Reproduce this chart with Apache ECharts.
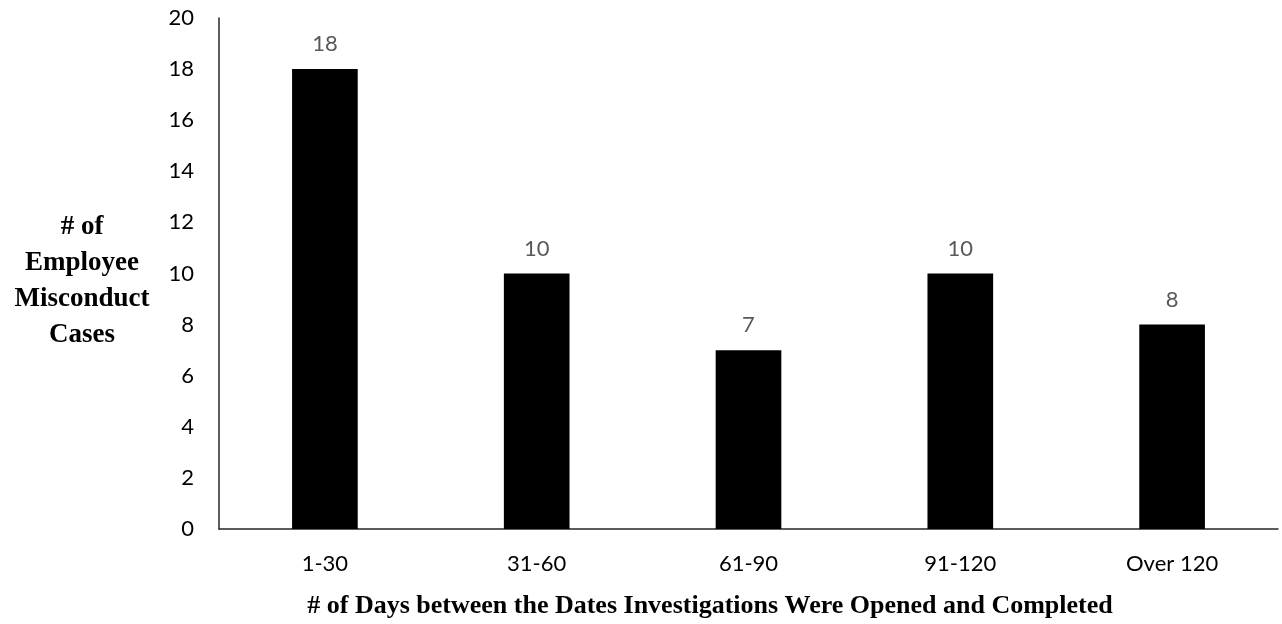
<!DOCTYPE html>
<html>
<head>
<meta charset="utf-8">
<script src="https://cdn.jsdelivr.net/npm/echarts@6/dist/echarts.min.js"></script>
<style>html,body{margin:0;padding:0;background:#fff}#c{width:1282px;height:624px}</style>
</head>
<body>
<div id="c"></div>
<script>
var categories = ['1-30', '31-60', '61-90', '91-120', 'Over 120'];
var cases = [18, 10, 7, 10, 8];
var yTicks = [0, 2, 4, 6, 8, 10, 12, 14, 16, 18, 20];
var xTitle = '# of Days between the Dates Investigations Were Opened and Completed';
var yTitle = '# of\nEmployee\nMisconduct\nCases';

var chart = echarts.init(document.getElementById('c'), null, {renderer: 'canvas'});
chart.setOption({
  animation: false,
  grid: {left: 219, right: 4, top: 18, bottom: 95, containLabel: false},
  graphic: [
    {
      type: 'text', x: 710, y: 606,
      style: {text: xTitle, fill: '#000', font: 'bold 26px "Liberation Serif"', align: 'center', verticalAlign: 'middle'}
    },
    {
      type: 'text', x: 82, y: 281,
      style: {text: yTitle, fill: '#000', font: 'bold 27px "Liberation Serif"', align: 'center', verticalAlign: 'middle', lineHeight: 36}
    }
  ],
  xAxis: {
    type: 'category',
    data: categories,
    axisLine: {lineStyle: {color: '#262626', width: 1.5}},
    axisTick: {show: false},
    axisLabel: {color: '#000', fontFamily: 'Lato', fontSize: 22, margin: 24}
  },
  yAxis: {
    type: 'value',
    min: yTicks[0],
    max: yTicks[yTicks.length - 1],
    interval: 2,
    splitLine: {show: false},
    axisLine: {show: true, lineStyle: {color: '#262626', width: 1.5}},
    axisTick: {show: false},
    axisLabel: {color: '#000', fontFamily: 'Lato', fontSize: 22, margin: 25}
  },
  series: [{
    type: 'bar',
    data: cases,
    barWidth: '31%',
    itemStyle: {color: '#000'},
    label: {show: true, position: 'top', distance: 14, color: '#595959', fontFamily: 'Lato', fontSize: 22}
  }]
});
</script>
</body>
</html>
